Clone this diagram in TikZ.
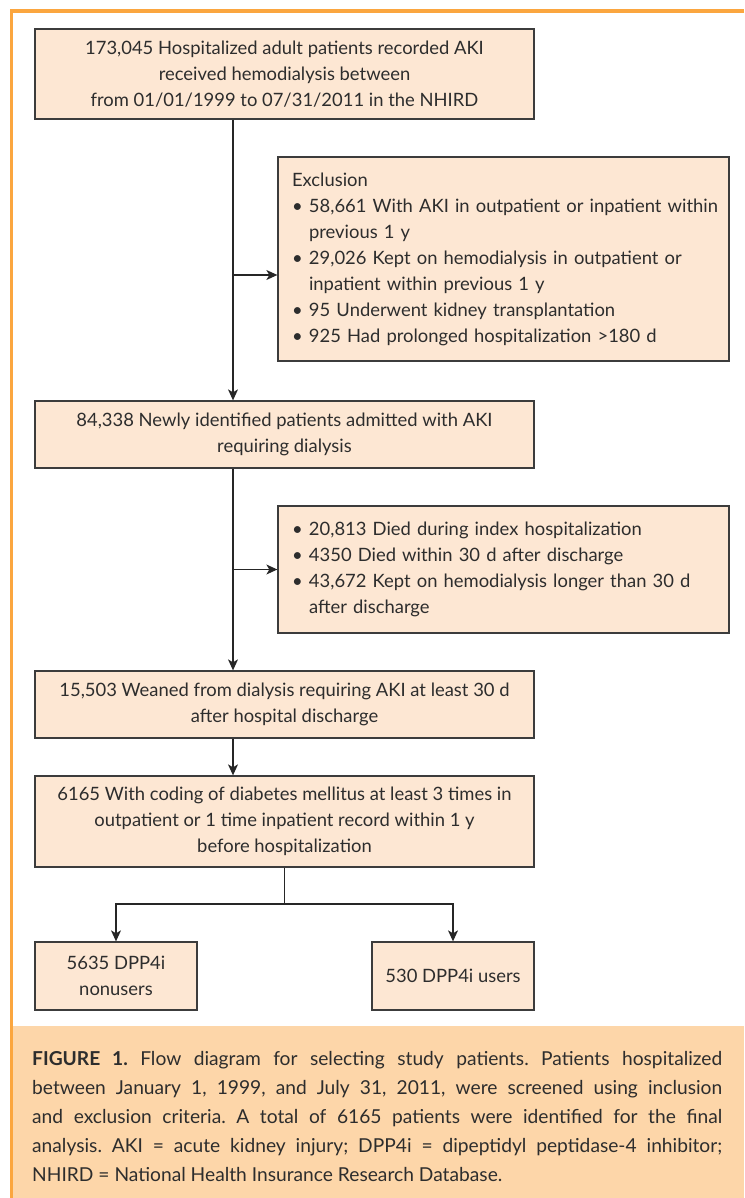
\documentclass[tikz,border=0pt]{standalone}
\usepackage{fontspec}
\setmainfont{Lato}
\usetikzlibrary{arrows.meta}
\definecolor{frameor}{RGB}{251,166,63}
\definecolor{capfill}{RGB}{253,214,169}
\definecolor{boxfill}{RGB}{253,231,211}
\definecolor{boxline}{RGB}{60,60,60}
\definecolor{txt}{RGB}{45,45,45}
\frenchspacing
\begin{document}
\begin{tikzpicture}[x=1pt,y=-1pt,
  box/.style={draw=boxline, fill=boxfill, line width=1.3pt, inner sep=0pt,
    font=\fontsize{18.4}{26}\selectfont, text=txt, align=center},
  lbox/.style={box, align=left},
  conn/.style={draw=black!85, line width=1.2pt},
  arr/.style={conn, -{Stealth[length=11pt,width=10pt,inset=3pt]}}]
\useasboundingbox (0,0) rectangle (744,1198);
% frame and caption band
\fill[capfill] (13,1026) rectangle (744,1198);
\draw[frameor, line width=3.5pt] (744,11) -- (11.5,11) -- (11.5,1198);
% boxes
\node[box, minimum width=499, minimum height=90] (b1) at (284.5,74)
  {173,045 Hospitalized adult patients recorded AKI\\received hemodialysis between\\from 01/01/1999 to 07/31/2011 in the NHIRD};
\node[lbox, minimum width=451, minimum height=204, text width=423] (e1) at (503.5,259)
  {Exclusion\\
   \mbox{\makebox[17pt][l]{\textbullet}58,661 With AKI in outpatient or inpatient within}\\
   \hspace*{17pt}previous 1 y\\
   \mbox{\makebox[17pt][l]{\textbullet}29,026 Kept on hemodialysis in outpatient or}\\
   \hspace*{17pt}inpatient within previous 1 y\\
   \makebox[17pt][l]{\textbullet}95 Underwent kidney transplantation\\
   \mbox{\makebox[17pt][l]{\textbullet}925 Had prolonged hospitalization >180 d}};
\node[box, minimum width=499, minimum height=67] (b2) at (284.5,434.5)
  {84,338 Newly identified patients admitted with AKI\\requiring dialysis};
\node[lbox, minimum width=451, minimum height=127, text width=423] (e2) at (503.5,569.5)
  {\makebox[17pt][l]{\textbullet}20,813 Died during index hospitalization\\
   \makebox[17pt][l]{\textbullet}4350 Died within 30 d after discharge\\
   \mbox{\makebox[17pt][l]{\textbullet}43,672 Kept on hemodialysis longer than 30 d}\\
   \hspace*{17pt}after discharge};
\node[box, minimum width=499, minimum height=67] (b3) at (284.5,704.5)
  {15,503 Weaned from dialysis requiring AKI at least 30 d\\after hospital discharge};
\node[box, minimum width=499, minimum height=91] (b4) at (284.5,821.5)
  {6165 With coding of diabetes mellitus at least 3 times in\\outpatient or 1 time inpatient record within 1 y\\before hospitalization};
\node[box, minimum width=162, minimum height=68] (lb) at (116,976)
  {5635 DPP4i\\nonusers};
\node[box, minimum width=162, minimum height=68] (rb) at (453,976)
  {530 DPP4i users};
% connectors
\coordinate (spine) at (233,0);
\coordinate (j1) at (233,275);
\coordinate (split) at (284.5,904);
\draw[arr] (b1.south -| spine) -- (b2.north -| spine);
\draw[arr] (j1) -- (j1 -| e1.west);
\draw[arr] (b2.south -| spine) -- (b3.north -| spine);
\draw[arr] (e2.west -| spine) -- (e2.west);
\draw[arr] (b3.south -| spine) -- (b4.north -| spine);
\draw[conn] (b4.south) -- (split);
\draw[arr] (split) -| (lb.north);
\draw[arr] (split) -| (rb.north);
% caption
\node[anchor=north west, inner sep=0pt, text width=690, align=justify,
  font=\fontsize{19.2}{29}\selectfont, text=txt] (cap) at (32,1051)
  {\textbf{FIGURE 1.} Flow diagram for selecting study patients. Patients hospitalized\linebreak
   between January 1, 1999, and July 31, 2011, were screened using inclusion\linebreak
   and exclusion criteria. A total of 6165 patients were identified for the final\linebreak
   analysis. AKI = acute kidney injury; DPP4i = dipeptidyl peptidase-4 inhibitor;\linebreak
   NHIRD = National Health Insurance Research Database.};
\end{tikzpicture}
\end{document}
